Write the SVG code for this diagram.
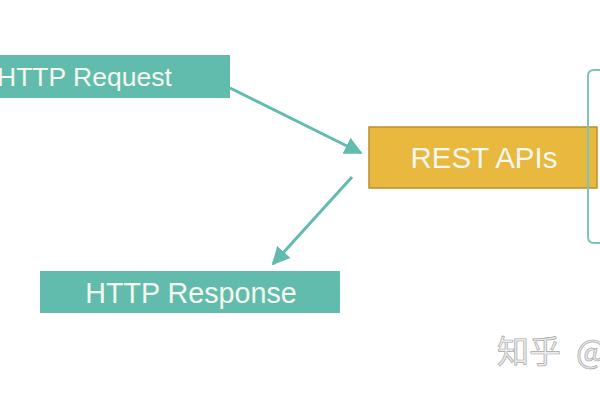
<svg xmlns="http://www.w3.org/2000/svg" width="600" height="400" viewBox="0 0 600 400">
<defs>
<style>
.teal{fill:#62bcad}
.lbl{font-family:"Liberation Sans",Arial,sans-serif;fill:#f4f8ee}
.conn{stroke:#62bcad;stroke-width:3;fill:none}
</style>
<marker id="ah" viewBox="0 0 10 10" refX="9" refY="5" markerWidth="6" markerHeight="6" orient="auto" markerUnits="strokeWidth">
<path d="M0,0 L10,5 L0,10 z" fill="#62bcad"/>
</marker>
</defs>
<rect width="600" height="400" fill="#ffffff"/>
<g id="http-request">
<rect class="teal" x="-10" y="55" width="240" height="43"/>
<text class="lbl" x="-3" y="86" font-size="26.5">HTTP Request</text>
</g>
<g id="rest-apis">
<rect x="369" y="127" width="228" height="61" fill="#e8b83f" stroke="#b8902e" stroke-width="1.5"/>
<text class="lbl" x="484" y="168" font-size="29.5" text-anchor="middle">REST APIs</text>
</g>
<g id="http-response">
<rect class="teal" x="40" y="271" width="300" height="42"/>
<text class="lbl" x="191" y="303" font-size="28.7" text-anchor="middle">HTTP Response</text>
</g>
<g id="bracket">
<path d="M600,70 L594,70 Q588,70 588,76 L588,237 Q588,243 594,243 L600,243" stroke="#7cc5b8" stroke-width="2" fill="none"/>
</g>
<g id="connectors">
<line class="conn" x1="230" y1="88" x2="361" y2="153" marker-end="url(#ah)"/>
<line class="conn" x1="352" y1="177" x2="273" y2="264" marker-end="url(#ah)"/>
</g>
<g id="watermark">
<text x="497" y="363" font-size="32" fill="#ececec" stroke="#a8a8a8" stroke-width="0.7" font-family="'Noto Sans CJK SC',sans-serif">知乎 <tspan x="576">@</tspan></text>
</g>
</svg>
